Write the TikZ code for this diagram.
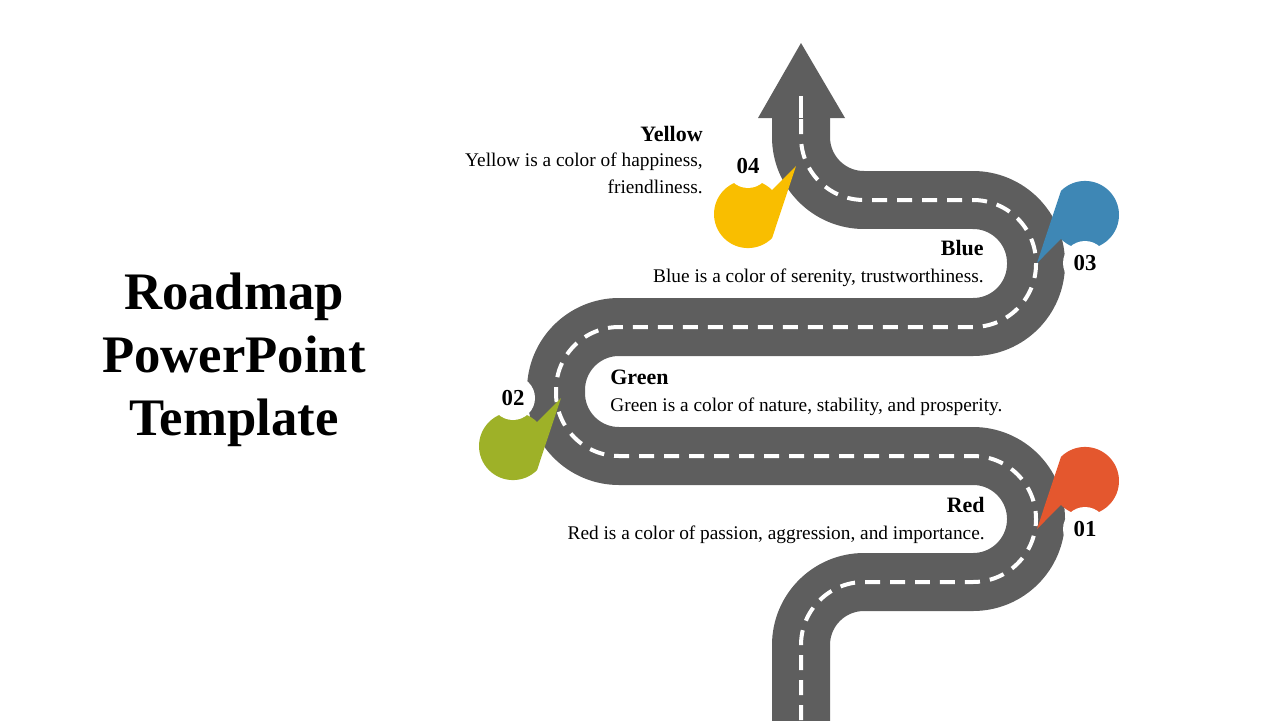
\documentclass[tikz,border=0pt]{standalone}
\usepackage{fontspec}
\setmainfont{Liberation Serif}
\usetikzlibrary{positioning,calc}
\definecolor{roadgrey}{HTML}{5E5E5E}
\definecolor{pinyellow}{HTML}{F9BE00}
\definecolor{pinblue}{HTML}{3E87B5}
\definecolor{pingreen}{HTML}{9EB128}
\definecolor{pinred}{HTML}{E4572E}
\tikzset{
  heading/.style={font=\bfseries\fontsize{12.5}{14}\selectfont, inner sep=0pt},
  bodytext/.style={font=\fontsize{11}{15}\selectfont, inner sep=0pt},
  pinlabel/.style={font=\bfseries\fontsize{13}{14}\selectfont, inner sep=0pt}
}
% pin: centre x, centre y, direction of the tip, colour, number
\newcommand{\roadpin}[6]{%
  \fill[#4] ($(#1,#2)+(#3:48)$) -- ($(#1,#2)+(#3+45:34)$)
    arc[start angle=#3+45, end angle=#3+315, radius=0.68cm] -- cycle;
  \fill[white] (#1,#2) circle[radius=0.44cm];
  \node[pinlabel] (#6) at (#1,#2) {#5};
}
\begin{document}
\begin{tikzpicture}[x=0.02cm,y=-0.02cm]
    \useasboundingbox (0,0) rectangle (1280,720);

    % Titre
    \node[font=\bfseries\fontsize{30}{36}\selectfont, align=center] (title) at (234,360)
      {Roadmap\\PowerPoint\\Template};

    % Route
    \draw[roadgrey, line width=1.16cm, rounded corners=1.26cm]
      (801,730) -- (801,582) -- (1036,582) -- (1036,456) -- (556,456)
      -- (556,327) -- (1036,327) -- (1036,200) -- (801,200) -- (801,110);
    \draw[white, line width=0.08cm, dash pattern=on 0.3cm off 0.2cm, rounded corners=1.26cm]
      (801,720) -- (801,582) -- (1036,582) -- (1036,456) -- (556,456)
      -- (556,327) -- (1036,327) -- (1036,200) -- (801,200) -- (801,100);
    \fill[roadgrey] (758,118) -- (801,43) -- (845,118) -- cycle;
    \draw[white, line width=0.08cm] (801,118) -- (801,96);

    % Repères
    \roadpin{748}{166}{0}{pinyellow}{04}{pinyellow}
    \roadpin{1085}{263}{180}{pinblue}{03}{pinblue}
    \roadpin{513}{398}{0}{pingreen}{02}{pingreen}
    \roadpin{1085}{529}{180}{pinred}{01}{pinred}

    % Textes
    \node[heading, anchor=base east] (yellowhead) at (703,141) {Yellow};
    \node[bodytext, anchor=north east, align=right] (yellowtext) at (703,153)
      {Yellow is a color of happiness,\\friendliness.};
    \node[heading, anchor=base east] (bluehead) at (984,255) {Blue};
    \node[bodytext, anchor=base east] (bluetext) at (984,282)
      {Blue is a color of serenity, trustworthiness.};
    \node[heading, anchor=base west] (greenhead) at (610,384) {Green};
    \node[bodytext, anchor=base west] (greentext) at (610,411)
      {Green is a color of nature, stability, and prosperity.};
    \node[heading, anchor=base east] (redhead) at (985,512) {Red};
    \node[bodytext, anchor=base east] (redtext) at (985,539)
      {Red is a color of passion, aggression, and importance.};
\end{tikzpicture}
\end{document}
